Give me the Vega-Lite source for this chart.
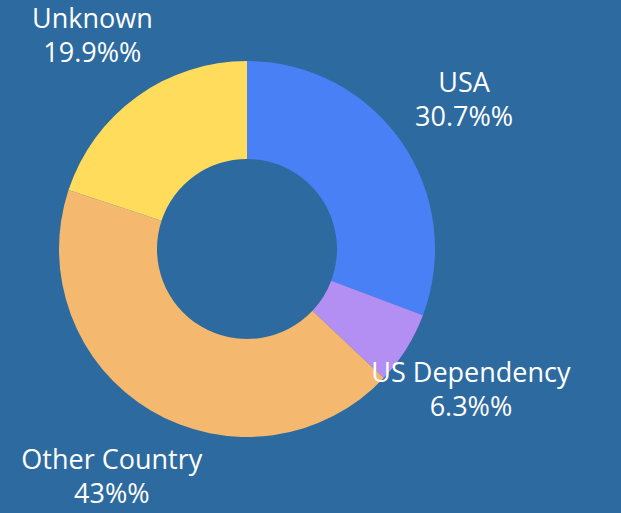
{
  "$schema": "https://vega.github.io/schema/vega-lite/v6.json",
  "width": 494,
  "height": 498,
  "autosize": "none",
  "padding": {"left": 0, "top": 0, "right": 127, "bottom": 15},
  "background": "#2D6A9F",
  "view": {"stroke": null},
  "data": {
    "values": [
      {"category": "USA", "value": 30.7, "pct": "30.7%%", "order": 1},
      {"category": "US Dependency", "value": 6.3, "pct": "6.3%%", "order": 2},
      {"category": "Other Country", "value": 43, "pct": "43%%", "order": 3},
      {"category": "Unknown", "value": 19.9, "pct": "19.9%%", "order": 4}
    ]
  },
  "encoding": {
    "theta": {"field": "value", "type": "quantitative", "stack": true},
    "order": {"field": "order", "type": "quantitative"}
  },
  "layer": [
    {
      "mark": {"type": "arc", "outerRadius": 188, "innerRadius": 90, "stroke": null},
      "encoding": {
        "color": {
          "field": "category",
          "type": "nominal",
          "scale": {
            "domain": ["USA", "US Dependency", "Other Country", "Unknown"],
            "range": ["#4A80F6", "#B38EF3", "#F4B86E", "#FFDC5C"]
          },
          "legend": null
        }
      }
    },
    {
      "mark": {
        "type": "text",
        "radius": 264,
        "dy": -15,
        "fontSize": 27,
        "font": "Open Sans",
        "color": "white",
        "align": "center",
        "baseline": "middle"
      },
      "encoding": {
        "text": {"field": "category", "type": "nominal"}
      }
    },
    {
      "mark": {
        "type": "text",
        "radius": 264,
        "dy": 19,
        "fontSize": 27,
        "font": "Open Sans",
        "color": "white",
        "align": "center",
        "baseline": "middle"
      },
      "encoding": {
        "text": {"field": "pct", "type": "nominal"}
      }
    }
  ]
}
